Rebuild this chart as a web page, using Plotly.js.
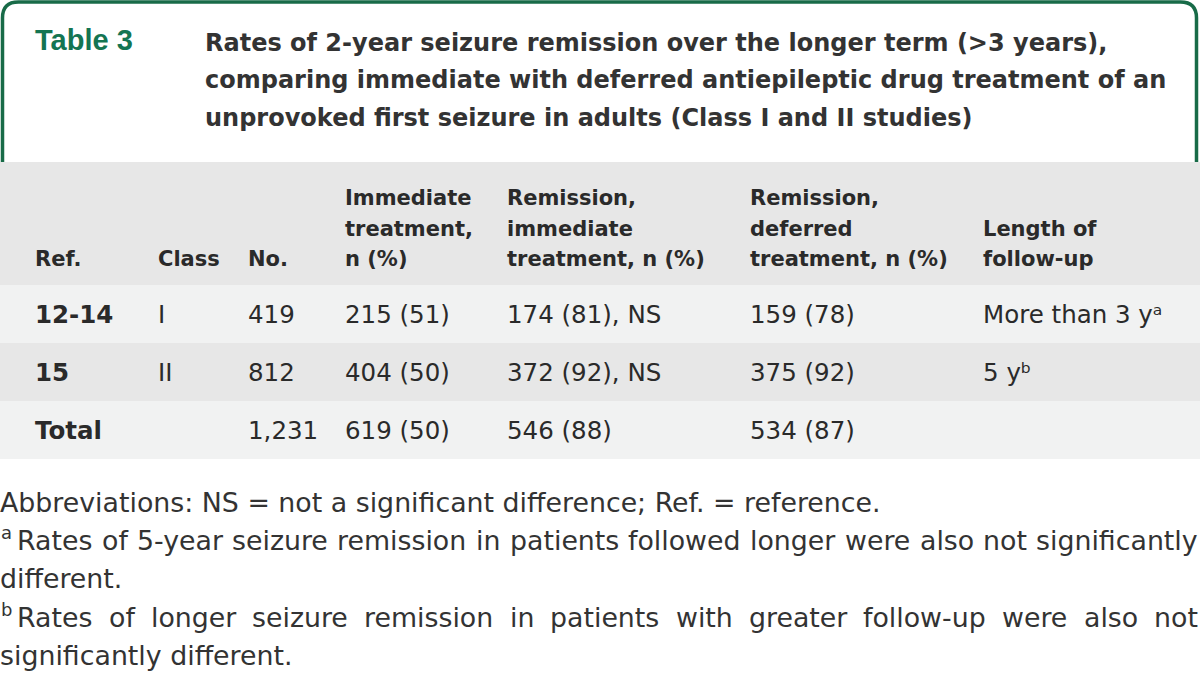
<!DOCTYPE html>
<html>
<head>
<meta charset="utf-8">
<script src="https://cdn.plot.ly/plotly-3.0.1.min.js"></script>
<style>html,body{margin:0;padding:0;background:#fff;}#chart{width:1200px;height:675px;}</style>
</head>
<body>
<div id="chart"></div>
<script>
// ---- data ----
var tableLabel = 'Table 3';
var titleLines = [
  'Rates of 2-year seizure remission over the longer term (&gt;3 years),',
  'comparing immediate with deferred antiepileptic drug treatment of an',
  'unprovoked first seizure in adults (Class I and II studies)'
];
var headers = [
  ['Ref.'],
  ['Class'],
  ['No.'],
  ['Immediate', 'treatment,', 'n (%)'],
  ['Remission,', 'immediate', 'treatment, n (%)'],
  ['Remission,', 'deferred', 'treatment, n (%)'],
  ['Length of', 'follow-up']
];
var refs = ['12-14', '15', 'Total'];
var studyClass = ['I', 'II', ''];
var totalN = ['419', '812', '1,231'];
var immN = [215, 404, 619];
var immPct = [51, 50, 50];
var remImmN = [174, 372, 546];
var remImmPct = [81, 92, 88];
var remImmSig = ['NS', 'NS', ''];
var remDefN = [159, 375, 534];
var remDefPct = [78, 92, 87];
var followUp = ['More than 3 y', '5 y', ''];
var followUpNote = ['a', 'b', ''];
var footAbbrev = 'Abbreviations: NS = not a significant difference; Ref. = reference.';
var footNotes = [
  { mark: 'a', lines: ['Rates of 5-year seizure remission in patients followed longer were also not significantly', 'different.'] },
  { mark: 'b', lines: ['Rates of longer seizure remission in patients with greater follow-up were also not', 'significantly different.'] }
];

// ---- build ----
var W = 1200, H = 675;
function px(x) { return x / W; }
function py(y) { return 1 - y / H; }

var green = '#186b48';
var greenText = '#147552';
var txt = '#2a2a2a';
var hdrBg = '#e7e7e7';
var lightBg = '#f1f2f2';
var clear = 'rgba(0,0,0,0)';
var SANS = '"DejaVu Sans", sans-serif';
var ARIAL = '"Liberation Sans", Arial, sans-serif';
var supChar = { a: '\u1d43', b: '\u1d47' };

function fmt(n, p) { return n + ' (' + p + ')'; }

var maxLines = 3;
var headerVals = [''].concat(headers.map(function (h) {
  var pad = [];
  for (var i = h.length; i < maxLines; i++) pad.push('\u00a0');
  return pad.concat(h).map(function (s) {
    return '<span style="font-size:21px">' + s + '</span>';
  }).join('<br>');
}));

var cols = [
  refs.map(function () { return ''; }),
  refs,
  studyClass,
  totalN,
  immN.map(function (n, i) { return fmt(n, immPct[i]); }),
  remImmN.map(function (n, i) { return fmt(n, remImmPct[i]) + (remImmSig[i] ? ', ' + remImmSig[i] : ''); }),
  remDefN.map(function (n, i) { return fmt(n, remDefPct[i]); }),
  followUp.map(function (f, i) { return f + (followUpNote[i] ? supChar[followUpNote[i]] : ''); })
];
var colWeights = cols.map(function (c, i) { return i === 1 ? 700 : 400; });
var blankCols = cols.map(function (c) { return c.map(function () { return ''; }); });
var blankHeader = headerVals.map(function () { return ''; });

var rowFill = refs.map(function (r, i) { return i % 2 === 0 ? lightBg : hdrBg; });
var fillCols = cols.map(function () { return rowFill; });

var colWidths = [27, 123, 90, 97, 162, 243, 233, 225];

var tableTop = 162, headerH = 123, rowH = 58;
var tableBottom = tableTop + headerH + rowH * refs.length;
var headShift = 16, bodyShift = 12;

function dom(shift) { return { x: [0, 1], y: [py(tableBottom + shift), py(tableTop + shift)] }; }

var bgTable = {
  type: 'table', domain: dom(0), columnwidth: colWidths,
  header: { values: blankHeader, height: headerH, fill: { color: hdrBg }, line: { width: 0, color: clear } },
  cells: { values: blankCols, height: rowH, fill: { color: fillCols }, line: { width: 0, color: clear } }
};
var headTable = {
  type: 'table', domain: dom(headShift), columnwidth: colWidths,
  header: {
    values: headerVals, align: 'left', height: headerH,
    fill: { color: clear }, line: { width: 0, color: clear },
    font: { family: SANS, size: 23.5, color: txt, weight: 700 }
  },
  cells: { values: blankCols, height: rowH, fill: { color: clear }, line: { width: 0, color: clear } }
};
var bodyTable = {
  type: 'table', domain: dom(bodyShift), columnwidth: colWidths,
  header: { values: blankHeader, height: headerH, fill: { color: clear }, line: { width: 0, color: clear } },
  cells: {
    values: cols, align: 'left', height: rowH,
    fill: { color: clear }, line: { width: 0, color: clear },
    font: { family: SANS, size: 24.5, color: txt, weight: colWeights }
  }
};

// green header box
var r = 16, L = 2.5, T = 2, R = 1196.5, B = tableTop;
var boxPath = 'M ' + px(L) + ',' + py(B) +
  ' L ' + px(L) + ',' + py(T + r) +
  ' Q ' + px(L) + ',' + py(T) + ' ' + px(L + r) + ',' + py(T) +
  ' L ' + px(R - r) + ',' + py(T) +
  ' Q ' + px(R) + ',' + py(T) + ' ' + px(R) + ',' + py(T + r) +
  ' L ' + px(R) + ',' + py(B);

var annotations = [];
function addText(t, x, yBase, size, family, color, centerK) {
  annotations.push({
    xref: 'paper', yref: 'paper', x: px(x), y: py(yBase - centerK * size),
    xanchor: 'left', yanchor: 'middle', text: t, showarrow: false,
    borderpad: 0, borderwidth: 0,
    font: { family: family, size: size, color: color }
  });
}
var KDV = 0.346, KLS = 0.3465;
addText('<b>' + tableLabel + '</b>', 35, 50, 29, ARIAL, greenText, KLS);
var titleBase = [51, 88.5, 126];
titleLines.forEach(function (t, i) {
  addText('<b>' + t + '</b>', 205, titleBase[i], 24, SANS, '#333333', KDV);
});

// footnotes
var FS = 26.8;
var canvas = document.createElement('canvas');
var ctx = canvas.getContext('2d');
ctx.font = FS + 'px "DejaVu Sans"';
function justify(line, x0, x1, yBase) {
  var words = line.split(' ');
  var widths = words.map(function (w) { return ctx.measureText(w).width; });
  var sum = widths.reduce(function (a, b) { return a + b; }, 0);
  var gap = (x1 - x0 - sum) / (words.length - 1);
  var x = x0;
  words.forEach(function (w, i) {
    addText(w, x, yBase, FS, SANS, '#333333', KDV);
    x += widths[i] + gap;
  });
}
var footBase = [512, 550, 588, 627, 665];
addText(footAbbrev, 0, footBase[0], FS, SANS, '#333333', KDV);
var li = 1;
footNotes.forEach(function (fn) {
  addText(fn.mark, 1, footBase[li] - 11, 18, SANS, '#333333', KDV);
  fn.lines.forEach(function (line, j) {
    if (j === 0) justify(line, 17, 1198, footBase[li]);
    else addText(line, 0, footBase[li], FS, SANS, '#333333', KDV);
    li++;
  });
});

var layout = {
  width: W, height: H,
  margin: { l: 0, r: 0, t: 0, b: 0 },
  paper_bgcolor: '#ffffff',
  showlegend: false,
  shapes: [{
    type: 'path', xref: 'paper', yref: 'paper', path: boxPath,
    line: { color: green, width: 3.5 }
  }],
  annotations: annotations
};

Plotly.newPlot('chart', [bgTable, headTable, bodyTable], layout, { displayModeBar: false, staticPlot: true });
</script>
</body>
</html>
